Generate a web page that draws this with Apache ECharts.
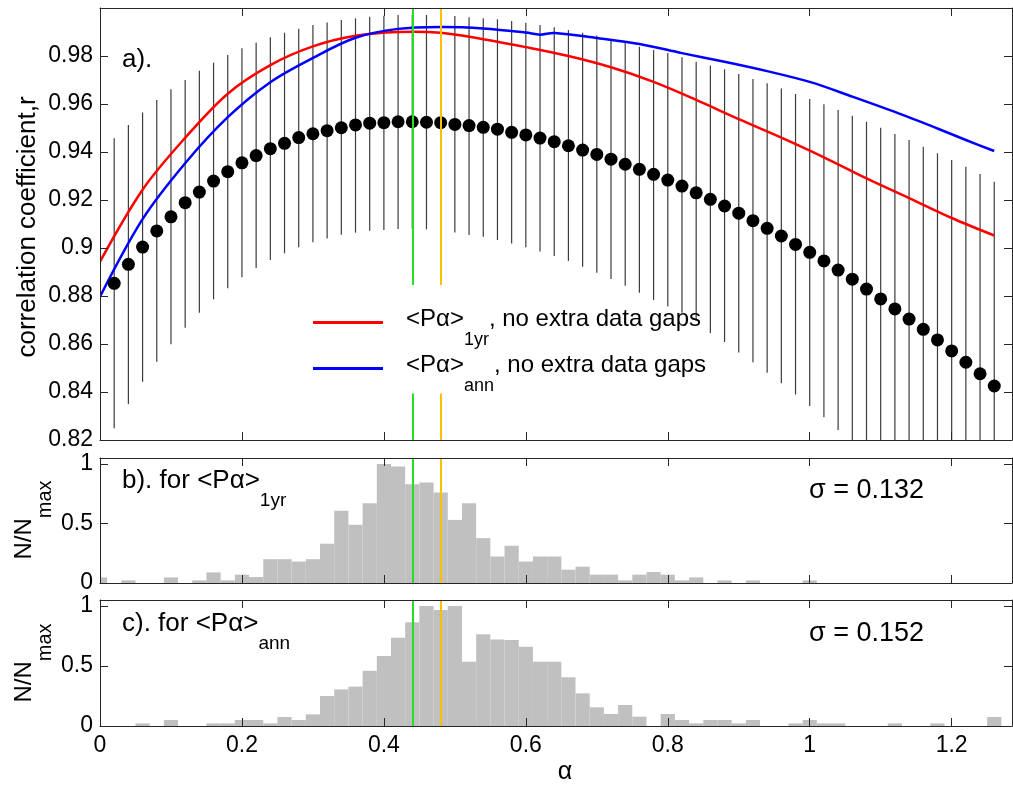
<!DOCTYPE html>
<html>
<head>
<meta charset="utf-8">
<script src="https://cdn.jsdelivr.net/npm/echarts@6.0.0/dist/echarts.min.js"></script>
<style>
html, body { margin: 0; padding: 0; background: #fff; }
#chart { width: 1013px; height: 790px; }
</style>
</head>
<body>
<div id="chart"></div>
<script>
// ---- data ----
// panel a: mean correlation with error bars
const alphaPts = [0.02, 0.04, 0.06, 0.08, 0.10, 0.12, 0.14, 0.16, 0.18, 0.20, 0.22, 0.24, 0.26, 0.28, 0.30, 0.32,
  0.34, 0.36, 0.38, 0.40, 0.42, 0.44, 0.46, 0.48, 0.50, 0.52, 0.54, 0.56, 0.58, 0.60, 0.62, 0.64, 0.66, 0.68,
  0.70, 0.72, 0.74, 0.76, 0.78, 0.80, 0.82, 0.84, 0.86, 0.88, 0.90, 0.92, 0.94, 0.96, 0.98, 1.00, 1.02, 1.04,
  1.06, 1.08, 1.10, 1.12, 1.14, 1.16, 1.18, 1.20, 1.22, 1.24, 1.26];
const corrMean = [0.8853, 0.8932, 0.9004, 0.9071, 0.9130, 0.9189, 0.9233, 0.9279, 0.9318, 0.9355, 0.9385, 0.9414,
  0.9436, 0.9460, 0.9476, 0.9489, 0.9501, 0.9513, 0.9520, 0.9522, 0.9526, 0.9526, 0.9524, 0.9522, 0.9515, 0.9510,
  0.9503, 0.9495, 0.9482, 0.9471, 0.9458, 0.9443, 0.9426, 0.9408, 0.9390, 0.9370, 0.9349, 0.9328, 0.9307, 0.9283,
  0.9258, 0.9230, 0.9203, 0.9175, 0.9145, 0.9114, 0.9082, 0.9050, 0.9015, 0.8982, 0.8946, 0.8908, 0.8870, 0.8829,
  0.8788, 0.8746, 0.8704, 0.8661, 0.8617, 0.8571, 0.8524, 0.8476, 0.8425];
const corrHigh = [0.9457, 0.9512, 0.9565, 0.9617, 0.9661, 0.9700, 0.9739, 0.9772, 0.9804, 0.9832, 0.9855, 0.9878,
  0.9897, 0.9914, 0.9929, 0.9940, 0.9950, 0.9957, 0.9964, 0.9968, 0.9971, 0.9972, 0.9971, 0.9969, 0.9967, 0.9961,
  0.9957, 0.9953, 0.9946, 0.9939, 0.9929, 0.9920, 0.9908, 0.9897, 0.9885, 0.9871, 0.9855, 0.9839, 0.9825, 0.9812,
  0.9795, 0.9776, 0.9760, 0.9745, 0.9725, 0.9704, 0.9686, 0.9665, 0.9642, 0.9621, 0.9599, 0.9575, 0.9551, 0.9526,
  0.9501, 0.9475, 0.9450, 0.9422, 0.9395, 0.9367, 0.9339, 0.9308, 0.9276];
const corrLow = [0.8249, 0.8350, 0.8443, 0.8526, 0.8599, 0.8668, 0.8730, 0.8786, 0.8832, 0.8878, 0.8917, 0.8950,
  0.8978, 0.9003, 0.9024, 0.9040, 0.9055, 0.9064, 0.9072, 0.9075, 0.9079, 0.9080, 0.9078, 0.9072, 0.9065, 0.9054,
  0.9047, 0.9033, 0.9019, 0.9003, 0.8985, 0.8967, 0.8946, 0.8922, 0.8897, 0.8871, 0.8843, 0.8814, 0.8783, 0.8756,
  0.8730, 0.8697, 0.8646, 0.8608, 0.8565, 0.8524, 0.8480, 0.8436, 0.8390, 0.8342, 0.8295, 0.8242, 0.8189, 0.8132,
  0.8075, 0.8017, 0.7958, 0.7900, 0.7839, 0.7775, 0.7709, 0.7644, 0.7574];

// <P alpha>_1yr curve
const alpha1yr = [0, 0.06, 0.12, 0.18, 0.24, 0.30, 0.36, 0.42, 0.48, 0.54, 0.60, 0.66, 0.72, 0.78, 0.84, 0.90,
  0.96, 1.02, 1.08, 1.14, 1.20, 1.26];
const r1yr = [0.8943, 0.9243, 0.9459, 0.9643, 0.9762, 0.9840, 0.9884, 0.9900, 0.9897, 0.9870, 0.9837, 0.9800,
  0.9753, 0.9692, 0.9617, 0.9537, 0.9460, 0.9378, 0.9290, 0.9208, 0.9125, 0.9052];

// <P alpha>_ann curve (small notch near 0.62)
const alphaAnn = [0, 0.06, 0.12, 0.18, 0.24, 0.30, 0.36, 0.42, 0.48, 0.54, 0.60, 0.62, 0.64, 0.70, 0.76, 0.82,
  0.88, 0.94, 1.00, 1.06, 1.12, 1.18, 1.22, 1.26];
const rAnn = [0.8797, 0.9120, 0.9353, 0.9545, 0.9691, 0.9792, 0.9876, 0.9913, 0.9921, 0.9915, 0.9898, 0.9889,
  0.9896, 0.9875, 0.9850, 0.9812, 0.9776, 0.9737, 0.9692, 0.9631, 0.9567, 0.9498, 0.9450, 0.9404];

// histograms (N/Nmax), bins of width 0.02
const binWidth = 0.02;
const binCenters = [0, 0.02, 0.04, 0.06, 0.08, 0.10, 0.12, 0.14, 0.16, 0.18, 0.20, 0.22, 0.24, 0.26, 0.28, 0.30,
  0.32, 0.34, 0.36, 0.38, 0.40, 0.42, 0.44, 0.46, 0.48, 0.50, 0.52, 0.54, 0.56, 0.58, 0.60, 0.62, 0.64, 0.66,
  0.68, 0.70, 0.72, 0.74, 0.76, 0.78, 0.80, 0.82, 0.84, 0.86, 0.88, 0.90, 0.92, 0.94, 0.96, 0.98, 1.00, 1.02,
  1.04, 1.06, 1.08, 1.10, 1.12, 1.14, 1.16, 1.18, 1.20, 1.22, 1.24, 1.26];
const hist1yr = [0.047, 0, 0.022, 0, 0, 0.047, 0, 0.022, 0.089, 0.022, 0.07, 0.05, 0.20, 0.20, 0.18, 0.20,
  0.33, 0.606, 0.489, 0.67, 1.0, 0.978, 0.83, 0.844, 0.76, 0.53, 0.67, 0.377, 0.223, 0.313, 0.18, 0.223, 0.223, 0.112,
  0.137, 0.07, 0.07, 0.022, 0.07, 0.092, 0.07, 0.022, 0.047, 0, 0.022, 0, 0.022, 0, 0, 0, 0.022, 0,
  0, 0, 0, 0, 0, 0, 0, 0, 0, 0, 0, 0];
const histAnn = [0, 0, 0, 0.022, 0, 0.05, 0, 0, 0.022, 0.022, 0.05, 0.05, 0.022, 0.075, 0.05, 0.097,
  0.25, 0.305, 0.328, 0.46, 0.583, 0.736, 0.864, 1.0, 0.967, 1.0, 0.536, 0.764, 0.72, 0.717, 0.661, 0.536, 0.536, 0.406,
  0.272, 0.156, 0.10, 0.175, 0.078, 0, 0.10, 0.05, 0.022, 0.05, 0.05, 0.022, 0.05, 0, 0, 0.022, 0.05, 0.022,
  0.022, 0, 0, 0, 0.022, 0, 0, 0.022, 0, 0, 0, 0.075];

const alphaGreen = 0.44;
const alphaOrange = 0.48;
const lineBreakTop = 0.8846;     // marker lines in panel a stop here ...
const lineBreakBottom = 0.8394;  // ... and resume here

// ---- chart ----
const FONT = '"Liberation Sans", Arial, sans-serif';
const TXT = '#000';
const AXC = '#262626';
const GREEN = '#22e022';
const ORANGE = '#ffc000';

function xAx(grid, pos, labels) {
  return {
    type: 'value', gridIndex: grid, position: pos, min: 0, max: 1.285, interval: 0.2, z: 10,
    axisLine: { show: true, onZero: false, lineStyle: { color: AXC, width: 1 } },
    axisTick: { show: true, inside: true, length: 8, lineStyle: { color: AXC } },
    axisLabel: { show: labels, showMaxLabel: false, margin: 8, fontSize: 23, color: TXT, fontFamily: FONT },
    splitLine: { show: false }
  };
}
function yAx(grid, pos, min, max, interval, labels) {
  return {
    type: 'value', gridIndex: grid, position: pos, min: min, max: max, interval: interval, z: 10,
    axisLine: { show: true, onZero: false, lineStyle: { color: AXC, width: 1 } },
    axisTick: { show: true, inside: true, length: 8, lineStyle: { color: AXC } },
    axisLabel: { show: labels, showMaxLabel: false, margin: 7, fontSize: 23, color: TXT, fontFamily: FONT },
    splitLine: { show: false }
  };
}

// main text + subscript, for the legend
const richLegend = {
  t: { fontSize: 24, fontFamily: FONT, color: TXT, fill: TXT, lineHeight: 31, verticalAlign: 'top' },
  s: { fontSize: 18, fontFamily: FONT, color: TXT, fill: TXT, lineHeight: 18, padding: [24, 0, 0, 0], verticalAlign: 'top' }
};
// panel annotations
const richPanel = {
  t: { fontSize: 26, fontFamily: FONT, fill: TXT, lineHeight: 31, verticalAlign: 'top' },
  s: { fontSize: 19, fontFamily: FONT, fill: TXT, lineHeight: 19, padding: [23, 0, 0, 0], verticalAlign: 'top' }
};
// rotated y-axis names
const richAxis = {
  t: { fontSize: 24, fontFamily: FONT, fill: TXT, lineHeight: 31, verticalAlign: 'top' },
  s: { fontSize: 20, fontFamily: FONT, fill: TXT, lineHeight: 20, padding: [23, 0, 0, 0], verticalAlign: 'top' }
};

function histRender(params, api) {
  const c = api.value(0), v = api.value(1);
  if (!v) return null;
  const a = api.coord([c - binWidth / 2, 0]);
  const b = api.coord([c + binWidth / 2, v]);
  return {
    type: 'rect',
    shape: { x: a[0], y: b[1], width: b[0] - a[0], height: a[1] - b[1] },
    style: { fill: '#c0c0c0' }
  };
}

// smooth curve through the read points (one polyline, drawn on the first item)
function curveSeries(name, xs, ys, color) {
  return {
    name: name, type: 'custom', xAxisIndex: 0, yAxisIndex: 0, z: 3, clip: true, silent: true,
    itemStyle: { color: color },
    data: xs.map(function (a, i) { return [a, ys[i]]; }),
    renderItem: function (params, api) {
      if (params.dataIndex !== 0) return null;
      const pts = xs.map(function (a, i) { return api.coord([a, ys[i]]); });
      return {
        type: 'polyline',
        shape: { points: pts, smooth: 0.33 },
        style: { stroke: color, lineWidth: 2.5, fill: null }
      };
    }
  };
}

function markerLines(segments) {
  return {
    silent: true, symbol: ['none', 'none'], label: { show: false },
    lineStyle: { type: 'solid', width: 2 },
    data: segments
  };
}

const chart = echarts.init(document.getElementById('chart'));
const option = {
  animation: false,
  backgroundColor: '#fff',
  grid: [
    { left: 100, right: 1, top: 8, height: 432 },
    { left: 100, right: 1, top: 458, height: 125 },
    { left: 100, right: 1, top: 600, height: 126 }
  ],
  xAxis: [
    xAx(0, 'bottom', false), xAx(0, 'top', false),
    xAx(1, 'bottom', false), xAx(1, 'top', false),
    xAx(2, 'bottom', true), xAx(2, 'top', false)
  ],
  yAxis: [
    yAx(0, 'left', 0.82, 1.0, 0.02, true), yAx(0, 'right', 0.82, 1.0, 0.02, false),
    yAx(1, 'left', 0, 1.05, 0.5, true), yAx(1, 'right', 0, 1.05, 0.5, false),
    yAx(2, 'left', 0, 1.05, 0.5, true), yAx(2, 'right', 0, 1.05, 0.5, false)
  ],
  legend: {
    data: ['1yr', 'ann'], orient: 'vertical', left: 313, top: 307, padding: 0,
    itemGap: 4, itemWidth: 70, itemHeight: 3, icon: 'rect', selectedMode: false,
    formatter: function (n) { return '{t|<Pα>}{s|' + n + '}{t|, no extra data gaps}'; },
    textStyle: { padding: [0, 0, 0, 18], rich: richLegend }
  },
  graphic: [
    { type: 'text', x: 122, y: 60, style: { text: 'a).', fontSize: 26, fontFamily: FONT, fill: TXT, verticalAlign: 'middle' } },
    { type: 'text', x: 122, y: 468, style: { text: '{t|b). for <Pα>}{s|1yr}', rich: richPanel, verticalAlign: 'top' } },
    { type: 'text', x: 122, y: 611, style: { text: '{t|c). for <Pα>}{s|ann}', rich: richPanel, verticalAlign: 'top' } },
    { type: 'text', x: 809, y: 491, style: { text: 'σ = 0.132', fontSize: 27, fontFamily: FONT, fill: TXT, verticalAlign: 'middle' } },
    { type: 'text', x: 809, y: 634, style: { text: 'σ = 0.152', fontSize: 27, fontFamily: FONT, fill: TXT, verticalAlign: 'middle' } },
    { type: 'text', x: 28, y: 227, rotation: Math.PI / 2,
      style: { text: 'correlation coefficient,r', fontSize: 26, fontFamily: FONT, fill: TXT, align: 'center', verticalAlign: 'middle' } },
    { type: 'text', x: 28, y: 520, rotation: Math.PI / 2,
      style: { text: '{t|N/N}{s|max}', rich: richAxis, align: 'center', verticalAlign: 'middle' } },
    { type: 'text', x: 28, y: 663, rotation: Math.PI / 2,
      style: { text: '{t|N/N}{s|max}', rich: richAxis, align: 'center', verticalAlign: 'middle' } },
    { type: 'text', x: 565, y: 772, style: { text: 'α', fontSize: 25, fontFamily: FONT, fill: TXT, align: 'center', verticalAlign: 'middle' } }
  ],
  series: [
    {
      // error bars
      type: 'custom', xAxisIndex: 0, yAxisIndex: 0, z: 1, clip: true, silent: true,
      data: alphaPts.map(function (a, i) { return [a, corrLow[i], corrHigh[i]]; }),
      encode: { x: 0, y: [1, 2] },
      renderItem: function (params, api) {
        const lo = api.coord([api.value(0), api.value(1)]);
        const hi = api.coord([api.value(0), api.value(2)]);
        return {
          type: 'line',
          shape: { x1: lo[0], y1: lo[1], x2: hi[0], y2: hi[1] },
          style: { stroke: '#3c3c3c', lineWidth: 1.2 }
        };
      }
    },
    {
      // vertical marker lines, panel a (broken around the legend)
      type: 'line', xAxisIndex: 0, yAxisIndex: 0, z: 2, data: [],
      markLine: markerLines([
        [{ coord: [alphaGreen, 1.0], lineStyle: { color: GREEN } }, { coord: [alphaGreen, lineBreakTop] }],
        [{ coord: [alphaGreen, lineBreakBottom], lineStyle: { color: GREEN } }, { coord: [alphaGreen, 0.82] }],
        [{ coord: [alphaOrange, 1.0], lineStyle: { color: ORANGE } }, { coord: [alphaOrange, lineBreakTop] }],
        [{ coord: [alphaOrange, lineBreakBottom], lineStyle: { color: ORANGE } }, { coord: [alphaOrange, 0.82] }]
      ])
    },
    curveSeries('1yr', alpha1yr, r1yr, '#ff0000'),
    curveSeries('ann', alphaAnn, rAnn, '#0000ff'),
    {
      type: 'scatter', xAxisIndex: 0, yAxisIndex: 0, z: 4, symbol: 'circle', symbolSize: 13,
      itemStyle: { color: '#000', opacity: 1 },
      data: alphaPts.map(function (a, i) { return [a, corrMean[i]]; })
    },
    {
      type: 'custom', xAxisIndex: 2, yAxisIndex: 2, z: 2, clip: true, silent: true,
      data: binCenters.map(function (c, i) { return [c, hist1yr[i]]; }),
      renderItem: histRender
    },
    {
      type: 'line', xAxisIndex: 2, yAxisIndex: 2, z: 3, data: [],
      markLine: markerLines([
        { xAxis: alphaGreen, lineStyle: { color: GREEN } }, { xAxis: alphaOrange, lineStyle: { color: ORANGE } }
      ])
    },
    {
      type: 'custom', xAxisIndex: 4, yAxisIndex: 4, z: 2, clip: true, silent: true,
      data: binCenters.map(function (c, i) { return [c, histAnn[i]]; }),
      renderItem: histRender
    },
    {
      type: 'line', xAxisIndex: 4, yAxisIndex: 4, z: 3, data: [],
      markLine: markerLines([
        { xAxis: alphaGreen, lineStyle: { color: GREEN } }, { xAxis: alphaOrange, lineStyle: { color: ORANGE } }
      ])
    }
  ]
};
chart.setOption(option);
</script>
</body>
</html>
